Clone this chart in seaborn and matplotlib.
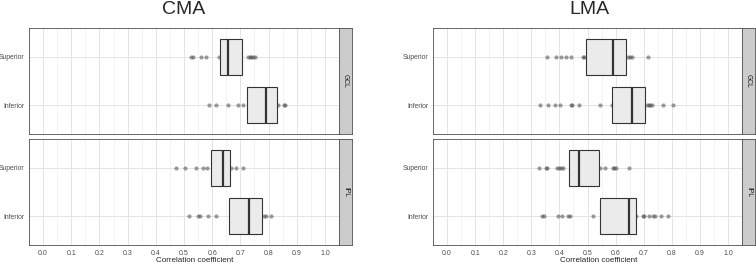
import numpy as np
import pandas as pd
import matplotlib
matplotlib.use('Agg')
import matplotlib.pyplot as plt
import seaborn as sns

# Box summaries [q1, median, q3] and the points lying outside the boxes
cma_gcl_sup_box = [0.626, 0.655, 0.705]
cma_gcl_sup_pts = [0.524, 0.531, 0.562, 0.577, 0.625, 0.727, 0.733, 0.739, 0.744, 0.751]
cma_gcl_inf_box = [0.722, 0.792, 0.829]
cma_gcl_inf_pts = [0.588, 0.614, 0.655, 0.693, 0.709, 0.833, 0.854, 0.858]
cma_ipl_sup_box = [0.596, 0.638, 0.664]
cma_ipl_sup_pts = [0.472, 0.504, 0.541, 0.567, 0.583, 0.668, 0.684, 0.710]
cma_ipl_inf_box = [0.658, 0.730, 0.778]
cma_ipl_inf_pts = [0.516, 0.549, 0.558, 0.584, 0.615, 0.785, 0.792, 0.809]

lma_gcl_sup_box = [0.494, 0.592, 0.638]
lma_gcl_sup_pts = [0.357, 0.389, 0.405, 0.424, 0.442, 0.485, 0.489, 0.643, 0.650, 0.657, 0.717]
lma_gcl_inf_box = [0.588, 0.660, 0.705]
lma_gcl_inf_pts = [0.331, 0.360, 0.383, 0.402, 0.440, 0.445, 0.469, 0.543, 0.586,
                   0.712, 0.718, 0.724, 0.729, 0.769, 0.804]
lma_ipl_sup_box = [0.433, 0.469, 0.540]
lma_ipl_sup_pts = [0.326, 0.351, 0.355, 0.393, 0.400, 0.406, 0.413, 0.545, 0.561,
                   0.590, 0.595, 0.601, 0.649]
lma_ipl_inf_box = [0.544, 0.648, 0.673]
lma_ipl_inf_pts = [0.338, 0.344, 0.394, 0.410, 0.429, 0.436, 0.518, 0.673, 0.699, 0.702,
                   0.720, 0.732, 0.742, 0.760, 0.788]

methods = ["CMA", "LMA"]
layers = ["GCL", "IPL"]
regions = ["Superior", "Inferior"]
x_ticks = np.round(np.arange(0, 1.01, 0.1), 1)

boxes = {
    ("CMA", "GCL"): [cma_gcl_sup_box, cma_gcl_inf_box],
    ("CMA", "IPL"): [cma_ipl_sup_box, cma_ipl_inf_box],
    ("LMA", "GCL"): [lma_gcl_sup_box, lma_gcl_inf_box],
    ("LMA", "IPL"): [lma_ipl_sup_box, lma_ipl_inf_box],
}
points = {
    ("CMA", "GCL"): [cma_gcl_sup_pts, cma_gcl_inf_pts],
    ("CMA", "IPL"): [cma_ipl_sup_pts, cma_ipl_inf_pts],
    ("LMA", "GCL"): [lma_gcl_sup_pts, lma_gcl_inf_pts],
    ("LMA", "IPL"): [lma_ipl_sup_pts, lma_ipl_inf_pts],
}

sns.set_style("white")
plt.rcParams['font.family'] = ['Liberation Sans', 'DejaVu Sans']

W, H = 756, 266
fig = plt.figure(figsize=(W / 100, H / 100), dpi=100)


def frac(x0, y0, x1, y1):
    return [x0 / W, 1 - y1 / H, (x1 - x0) / W, (y1 - y0) / H]


panel_x = {"CMA": (29, 339), "LMA": (433, 742)}
panel_y = {"GCL": (28, 134), "IPL": (139, 245)}
title_x = {"CMA": 184, "LMA": 589}
label_x = {"CMA": 195, "LMA": 599}

for m in methods:
    x0, x1 = panel_x[m]
    for layer in layers:
        y0, y1 = panel_y[layer]
        ax = fig.add_axes(frac(x0, y0, x1, y1))

        # box table: five values per group so the quartiles land on q1/median/q3
        rows = []
        for reg, (q1, med, q3) in zip(regions, boxes[(m, layer)]):
            for v in [q1, q1, med, q3, q3]:
                rows.append({"region": reg, "value": v})
        df_box = pd.DataFrame(rows)
        pts = []
        for reg, vals in zip(regions, points[(m, layer)]):
            for v in vals:
                pts.append({"region": reg, "value": v})
        df_pts = pd.DataFrame(pts)

        sns.stripplot(data=df_pts, x="value", y="region", order=regions, jitter=False,
                      color="#4d4d4d", alpha=0.55, size=3.0, linewidth=0, ax=ax, zorder=2)
        sns.boxplot(data=df_box, x="value", y="region", order=regions, orient="h",
                    width=0.75, whis=0, showcaps=False, showfliers=False,
                    color="#ebebeb", linecolor="#333333", linewidth=0.8,
                    medianprops={"linewidth": 1.6, "color": "#333333"}, ax=ax)

        ax.set_xlim(-0.05, 1.05)
        ax.set_ylim(1.6, -0.6)
        ax.set_xticks(x_ticks)
        ax.set_xticks(np.round(np.arange(0.05, 1.0, 0.1), 2), minor=True)
        ax.grid(which="major", color="#e4e4e4", linewidth=0.7)
        ax.grid(which="minor", axis="x", color="#efefef", linewidth=0.5)
        ax.set_axisbelow(True)
        ax.set_xlabel("")
        ax.set_ylabel("")
        ax.tick_params(axis="y", length=2.4, width=0.5, color="#333333", pad=1,
                       labelsize=4.9, labelcolor="#4d4d4d")
        ax.tick_params(axis="x", which="minor", length=0)
        if layer == "IPL":
            ax.tick_params(axis="x", length=2.4, width=0.5, color="#333333", pad=1.5,
                           labelsize=5.0, labelcolor="#4d4d4d")
            ax.set_xticklabels([f"{t:.1f}" for t in x_ticks])
        else:
            ax.tick_params(axis="x", length=0, labelbottom=False)
        for s in ax.spines.values():
            s.set_color("#4d4d4d")
            s.set_linewidth(0.6)

        # facet strip on the right
        sx = fig.add_axes(frac(x1, y0, x1 + 13, y1))
        sx.set_facecolor("#cccccc")
        sx.set_xticks([])
        sx.set_yticks([])
        for s in sx.spines.values():
            s.set_color("#4d4d4d")
            s.set_linewidth(0.6)
        sx.text(0.5, 0.5, layer, rotation=270, ha="center", va="center",
                fontsize=4.9, color="#1a1a1a", transform=sx.transAxes)

    fig.text(title_x[m] / W, 1 - 9.5 / H, m, ha="center", va="center", fontsize=14)
    fig.text(label_x[m] / W, 1 - 261 / H, "Correlation coefficient", ha="center",
             va="center", fontsize=5.8)

fig.savefig("out.png", dpi=100)
plt.close(fig)
